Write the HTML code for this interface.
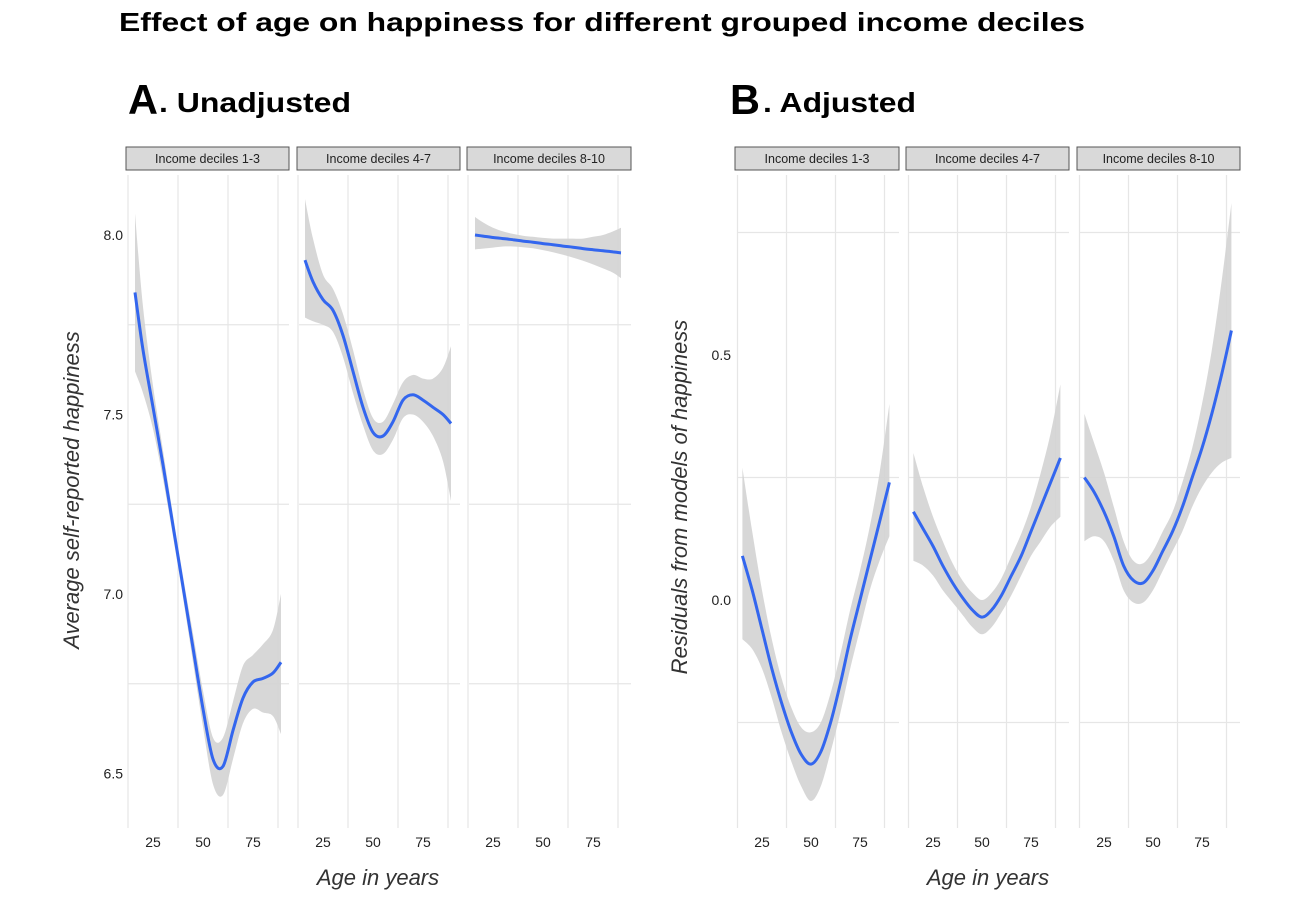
<!DOCTYPE html>
<html><head><meta charset="utf-8"><style>
body{margin:0;background:#fff;}
svg text{font-family:"Liberation Sans",sans-serif;}
</style></head><body>
<svg id="chart" width="1307" height="892" viewBox="0 0 1307 892" xmlns="http://www.w3.org/2000/svg">
<rect width="1307" height="892" fill="#fff"/>
<text x="119" y="31" font-size="26" font-weight="bold" textLength="966" lengthAdjust="spacingAndGlyphs">Effect of age on happiness for different grouped income deciles</text>
<text x="128" y="114" font-size="42" font-weight="bold" textLength="30" lengthAdjust="spacingAndGlyphs">A</text>
<text x="159" y="112" font-size="28" font-weight="bold" textLength="192" lengthAdjust="spacingAndGlyphs">. Unadjusted</text>
<text x="730" y="114" font-size="42" font-weight="bold" textLength="30" lengthAdjust="spacingAndGlyphs">B</text>
<text x="763" y="112" font-size="28" font-weight="bold" textLength="153" lengthAdjust="spacingAndGlyphs">. Adjusted</text>
<text x="378" y="885" font-size="22" font-style="italic" text-anchor="middle" fill="#333">Age in years</text>
<text x="988" y="885" font-size="22" font-style="italic" text-anchor="middle" fill="#333">Age in years</text>
<text transform="translate(79,490) rotate(-90)" font-size="22" font-style="italic" text-anchor="middle" fill="#333">Average self-reported happiness</text>
<text transform="translate(687,497) rotate(-90)" font-size="22" font-style="italic" text-anchor="middle" fill="#333">Residuals from models of happiness</text>
<g id="plots"></g>
</svg>
<script>
// Panel A data
const ageA = [16,20,25,30,35,40,45,50,55,60,65,70,75,80,85,89];
const a1Fit = [7.84,7.68,7.52,7.36,7.19,7.02,6.85,6.68,6.54,6.52,6.62,6.71,6.755,6.765,6.78,6.81];
const a1Hi  = [8.06,7.80,7.58,7.40,7.22,7.05,6.89,6.73,6.60,6.60,6.70,6.80,6.83,6.86,6.90,7.00];
const a1Lo  = [7.62,7.56,7.46,7.32,7.16,6.99,6.81,6.63,6.47,6.44,6.54,6.64,6.68,6.67,6.66,6.61];
const a2Fit = [7.93,7.87,7.82,7.79,7.72,7.62,7.52,7.45,7.44,7.48,7.54,7.555,7.54,7.52,7.50,7.475];
const a2Hi  = [8.10,7.99,7.89,7.85,7.78,7.68,7.57,7.49,7.48,7.53,7.59,7.61,7.60,7.60,7.63,7.69];
const a2Lo  = [7.77,7.76,7.75,7.73,7.66,7.56,7.47,7.40,7.39,7.43,7.49,7.50,7.48,7.44,7.37,7.26];
const a3Fit = [8.00,7.997,7.993,7.99,7.987,7.983,7.98,7.976,7.973,7.969,7.966,7.962,7.959,7.956,7.953,7.95];
const a3Hi  = [8.05,8.035,8.02,8.01,8.003,7.998,7.995,7.992,7.99,7.99,7.99,7.99,7.995,8.0,8.01,8.02];
const a3Lo  = [7.96,7.962,7.965,7.968,7.968,7.966,7.963,7.958,7.952,7.945,7.937,7.928,7.918,7.907,7.895,7.88];
const ticksA = [6.5,7.0,7.5,8.0];
const labelsA = ["6.5","7.0","7.5","8.0"];
// Panel B data
const ageB = [15,20,25,30,35,40,45,50,55,60,65,70,75,80,85,90];
const b1Fit = [0.09,0.02,-0.06,-0.14,-0.21,-0.27,-0.315,-0.335,-0.31,-0.25,-0.17,-0.08,0.0,0.08,0.16,0.24];
const b1Hi  = [0.27,0.14,0.02,-0.08,-0.16,-0.22,-0.26,-0.27,-0.25,-0.19,-0.11,-0.02,0.06,0.15,0.26,0.40];
const b1Lo  = [-0.08,-0.10,-0.14,-0.20,-0.27,-0.33,-0.38,-0.41,-0.38,-0.31,-0.23,-0.14,-0.06,0.02,0.08,0.13];
const b2Fit = [0.18,0.145,0.11,0.07,0.035,0.005,-0.02,-0.035,-0.02,0.01,0.05,0.09,0.14,0.19,0.24,0.29];
const b2Hi  = [0.30,0.23,0.17,0.12,0.075,0.04,0.015,0.0,0.015,0.045,0.09,0.135,0.19,0.26,0.34,0.44];
const b2Lo  = [0.08,0.07,0.05,0.02,-0.005,-0.03,-0.055,-0.07,-0.055,-0.025,0.01,0.05,0.09,0.12,0.15,0.17];
const b3Fit = [0.25,0.22,0.18,0.13,0.07,0.04,0.035,0.06,0.10,0.14,0.19,0.25,0.31,0.38,0.46,0.55];
const b3Hi  = [0.38,0.32,0.26,0.19,0.12,0.08,0.075,0.10,0.14,0.18,0.24,0.31,0.40,0.51,0.65,0.81];
const b3Lo  = [0.12,0.13,0.12,0.08,0.02,-0.005,-0.005,0.02,0.06,0.10,0.14,0.19,0.23,0.26,0.28,0.29];
const ticksB = [0.0,0.5];
const labelsB = ["0.0","0.5"];
const xTicks = [25,50,75];

const NS="http://www.w3.org/2000/svg";
const root=document.getElementById('plots');
function mk(tag,attrs,parent){const e=document.createElementNS(NS,tag);for(const k in attrs)e.setAttribute(k,attrs[k]);(parent||root).appendChild(e);return e;}
function smooth(pts){let d="M"+pts[0][0].toFixed(1)+","+pts[0][1].toFixed(1);for(let i=0;i<pts.length-1;i++){const p0=pts[i-1]||pts[i],p1=pts[i],p2=pts[i+1],p3=pts[i+2]||p2;const c1=[p1[0]+(p2[0]-p0[0])/6,p1[1]+(p2[1]-p0[1])/6],c2=[p2[0]-(p3[0]-p1[0])/6,p2[1]-(p3[1]-p1[1])/6];d+="C"+c1[0].toFixed(1)+","+c1[1].toFixed(1)+" "+c2[0].toFixed(1)+","+c2[1].toFixed(1)+" "+p2[0].toFixed(1)+","+p2[1].toFixed(1);}return d;}

function panel(cfg){
  const {name,facets,yScale,minor,ticks,labels,ages,top,bottom,labelX,stripTitles}=cfg;
  ticks.forEach((t,i)=>{
    const tl=mk('text',{x:labelX,y:yScale(t)+5,'font-size':14,'text-anchor':'end',fill:'#222'});
    
    
    tl.textContent=labels[i];
  });
  facets.forEach((f,fi)=>{
    const xs=a=>f.x25+(a-25)*f.k;
    const g=mk('g',{});
    
    
    // minor gridlines
    minor.forEach(v=>{const l=mk('line',{x1:f.left,x2:f.right,y1:yScale(v),y2:yScale(v),stroke:'#e6e6e6','stroke-width':1.2},g);
      
      });
    [12.5,37.5,62.5,87.5].forEach(a=>{const l=mk('line',{x1:xs(a),x2:xs(a),y1:top,y2:bottom,stroke:'#e6e6e6','stroke-width':1.2},g);
      
      });
    xTicks.forEach(a=>{const t=mk('text',{x:xs(a),y:bottom+19,'font-size':14,'text-anchor':'middle',fill:'#222'},g);
      
      
      t.textContent=String(a);});
    // strip
    const s=mk('rect',{x:f.left-2,y:147,width:f.right-f.left+2,height:23,fill:'#d9d9d9',stroke:'#555','stroke-width':1},g);
    
    
    const st=mk('text',{x:(f.left+f.right)/2-1,y:163,'font-size':12.5,'text-anchor':'middle',fill:'#222'},g);
    
    
    st.textContent=stripTitles[fi];
    // band
    const hiPts=ages.map((a,i)=>[xs(a),yScale(f.hi[i])]);
    const loPts=ages.map((a,i)=>[xs(a),yScale(f.lo[i])]).reverse();
    const dHi=smooth(hiPts), dLo=smooth(loPts).replace(/^M/,'L');
    const band=mk('path',{d:dHi+dLo+'Z',fill:'#d3d3d3','fill-opacity':0.9},g);
    
    
    const line=mk('path',{d:smooth(ages.map((a,i)=>[xs(a),yScale(f.fit[i])])),fill:'none',stroke:'#3366ee','stroke-width':3},g);
    
    
  });
}
const strips=["Income deciles 1-3","Income deciles 4-7","Income deciles 8-10"];
panel({name:'panel-a',yScale:v=>235+(8-v)*359,minor:[6.75,7.25,7.75],ticks:ticksA,labels:labelsA,ages:ageA,top:175,bottom:828,labelX:123,stripTitles:strips,
  facets:[{x25:153,k:2,left:128,right:289,fit:a1Fit,hi:a1Hi,lo:a1Lo},
          {x25:323,k:2,left:299,right:460,fit:a2Fit,hi:a2Hi,lo:a2Lo},
          {x25:493,k:2,left:469,right:631,fit:a3Fit,hi:a3Hi,lo:a3Lo}]});
panel({name:'panel-b',yScale:v=>600-v*490,minor:[-0.25,0.25,0.75],ticks:ticksB,labels:labelsB,ages:ageB,top:175,bottom:828,labelX:731,stripTitles:strips,
  facets:[{x25:762,k:1.96,left:737,right:899,fit:b1Fit,hi:b1Hi,lo:b1Lo},
          {x25:933,k:1.96,left:908,right:1069,fit:b2Fit,hi:b2Hi,lo:b2Lo},
          {x25:1104,k:1.96,left:1079,right:1240,fit:b3Fit,hi:b3Hi,lo:b3Lo}]});
</script>
</body></html>
